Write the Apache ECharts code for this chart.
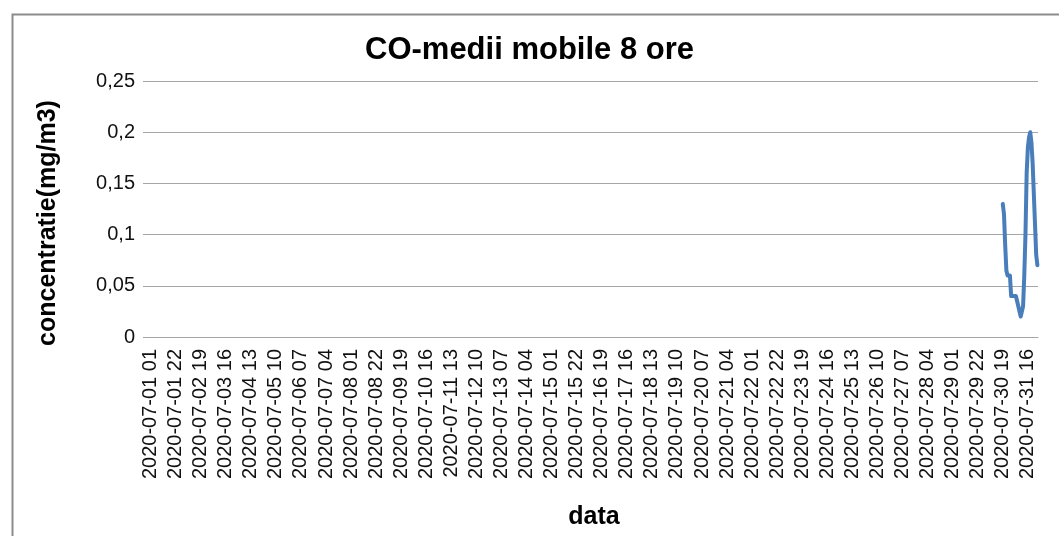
<!DOCTYPE html>
<html>
<head>
<meta charset="utf-8">
<title>CO-medii mobile 8 ore</title>
<script src="https://cdn.jsdelivr.net/npm/echarts@6/dist/echarts.min.js"></script>
<style>
    html, body { margin: 0; padding: 0; background: #fff; }
    #chart { width: 1059px; height: 536px; }
</style>
</head>
<body>
<div id="chart"></div>
<script>
// ---------------------------------------------------------------------------
// Data
// ---------------------------------------------------------------------------
const monthPrefix = '2020-07-';
const dayCount = 31;
const hoursPerDay = 24;      // ore 01 .. 24
const labelEvery = 21;       // one tick label every 21 hours

// hourly categories 2020-07-01 01 ... 2020-07-31 24
const categories = [];
for (let d = 1; d <= dayCount; d++) {
    for (let h = 1; h <= hoursPerDay; h++) {
        categories.push(monthPrefix + String(d).padStart(2, '0') + ' ' + String(h).padStart(2, '0'));
    }
}

// CO 8h moving average (mg/m3), measured only at the end of the month
const coStart = '2020-07-30 19';
const coValues = [
    0.13, 0.12, 0.09, 0.065, 0.06, 0.06, 0.06, 0.04, 0.04, 0.04,
    0.04, 0.04, 0.04, 0.03, 0.03, 0.02, 0.02, 0.03, 0.06, 0.10,
    0.16, 0.185, 0.195, 0.20, 0.19, 0.17, 0.14, 0.11, 0.08, 0.07
];

const yTicks = [0, 0.05, 0.1, 0.15, 0.2, 0.25];

// ---------------------------------------------------------------------------
// Chart
// ---------------------------------------------------------------------------
const startIdx = categories.indexOf(coStart);
const seriesData = categories.map(function (c, i) {
    const k = i - startIdx;
    return (k >= 0 && k < coValues.length) ? coValues[k] : null;
});

const chart = echarts.init(document.getElementById('chart'));

const option = {
    animation: false,
    backgroundColor: '#fff',
    textStyle: { fontFamily: 'Liberation Sans, Arial, sans-serif' },
    graphic: [{
        type: 'rect',
        left: 10, top: 12,
        shape: { width: 1100, height: 600 },
        style: { fill: 'none', stroke: '#8c8c8c', lineWidth: 2 }
    }],
    title: {
        text: 'CO-medii mobile 8 ore',
        left: 'center',
        top: 30,
        textStyle: { fontSize: 31, fontWeight: 'bold', color: '#000', fontFamily: 'Liberation Sans, Arial, sans-serif' }
    },
    grid: { left: 150, right: 21, top: 81, bottom: 199 },
    xAxis: {
        type: 'category',
        data: categories,
        boundaryGap: true,
        name: 'data',
        nameLocation: 'middle',
        nameGap: 168,
        nameTextStyle: { fontSize: 25, fontWeight: 'bold', color: '#000' },
        axisLine: { show: true, lineStyle: { color: '#a6a6a6', width: 1 } },
        axisTick: { show: false },
        axisLabel: {
            interval: labelEvery - 1,
            rotate: 90,
            margin: 12,
            fontSize: 20,
            color: '#111'
        },
        splitLine: { show: false }
    },
    yAxis: {
        type: 'value',
        min: yTicks[0],
        max: yTicks[yTicks.length - 1],
        interval: 0.05,
        name: 'concentratie(mg/m3)',
        nameLocation: 'middle',
        nameGap: 89,
        nameTextStyle: { fontSize: 25, fontWeight: 'bold', color: '#000', padding: [0, 28, 0, 0] },
        axisLine: { show: false },
        axisTick: { show: true, length: 7, lineStyle: { color: '#a6a6a6' } },
        axisLabel: {
            margin: 15,
            fontSize: 20,
            color: '#111',
            formatter: function (v) { return String(+v.toFixed(2)).replace('.', ','); }
        },
        splitLine: { lineStyle: { color: '#a6a6a6', width: 1 } }
    },
    series: [{
        type: 'line',
        data: seriesData,
        showSymbol: false,
        connectNulls: false,
        lineStyle: { color: '#4a7ebb', width: 4, cap: 'round', join: 'round' },
        itemStyle: { color: '#4a7ebb' }
    }]
};
chart.setOption(option);
</script>
</body>
</html>
